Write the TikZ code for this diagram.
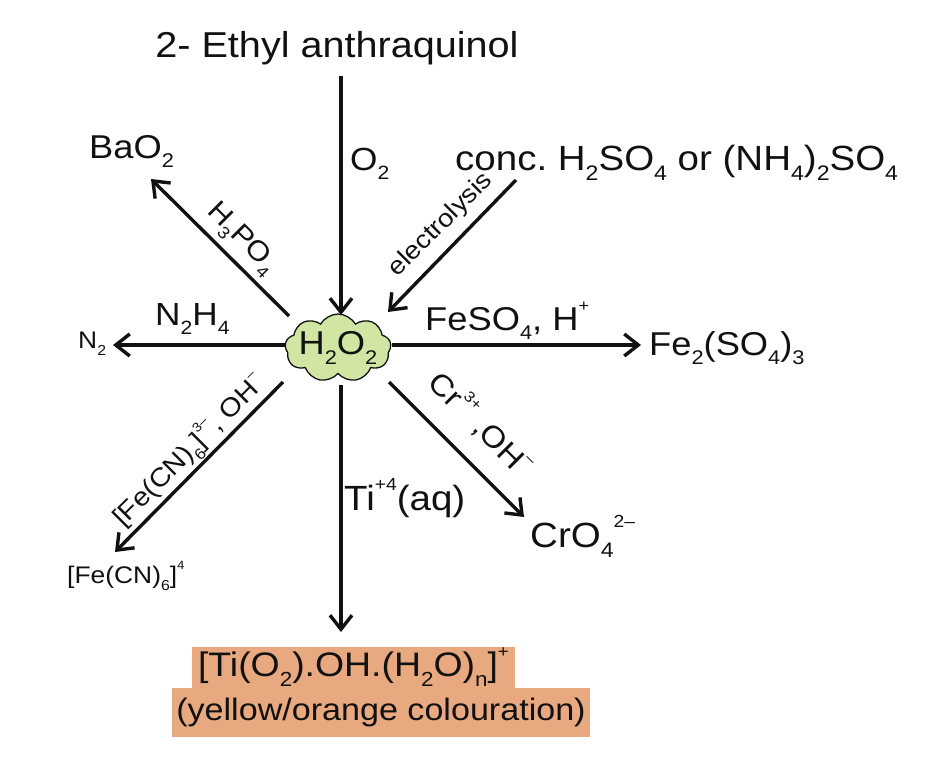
\documentclass[tikz,border=0pt]{standalone}
\usepackage{fontspec}
\setmainfont{Liberation Sans}[FakeStretch=1.1]
\usepackage{graphicx}
\usetikzlibrary{arrows.meta,shapes.symbols}
\newcommand{\dn}[1]{\raisebox{-0.3em}{\scalebox{0.6}{#1}}}
\newcommand{\up}[1]{\raisebox{0.55em}{\scalebox{0.5}{#1}}}
\definecolor{txt}{HTML}{111111}
\definecolor{cloudfill}{HTML}{D0E6A2}
\definecolor{boxfill}{HTML}{E8A980}
\tikzset{
  lbl/.style={inner sep=0pt, text=txt, font=\fontsize{32}{36}\selectfont},
  big/.style={font=\fontsize{33}{38}\selectfont},
  small/.style={font=\fontsize{24}{28}\selectfont},
  arr/.style={draw=txt, line width=3.4pt, -{Straight Barb[length=14pt,width=22pt]}},
  prodbox/.style={lbl, fill=boxfill}
}
\frenchspacing
\begin{document}
\begin{tikzpicture}[x=1pt,y=-1pt]
\useasboundingbox (0,0) rectangle (942,768);

% central cloud
\node[cloud, cloud puffs=9, cloud puff arc=120, cloud ignores aspect, draw=txt, line width=1.3pt,
      fill=cloudfill, minimum width=106pt, minimum height=68pt, inner sep=0pt,
      label={[lbl,big]center:H\dn{2}O\dn{2}}] (h2o2) at (338,348) {};

% compounds / reagents
\node[lbl, font=\fontsize{36}{40}\selectfont, anchor=base] (eaq) at (337,58) {2- Ethyl anthraquinol};
\node[lbl, big, anchor=base west] (bao2) at (89,158) {BaO\dn{2}};
\node[lbl, font=\fontsize{35}{40}\selectfont, anchor=base west] (conc) at (455,170) {conc. H\dn{2}SO\dn{4} or (NH\dn{4})\dn{2}SO\dn{4}};
\node[lbl, small, anchor=base west] (n2) at (78,348) {N\dn{2}};
\node[lbl, big, anchor=base west] (fe2so4) at (649,355) {Fe\dn{2}(SO\dn{4})\dn{3}};
\node[lbl, font=\fontsize{35}{40}\selectfont, anchor=base west] (cro4) at (530,547) {CrO\dn{4}\up{2–}};
\node[lbl, small, anchor=base west] (fecn4) at (67,583) {[Fe(CN)\dn{6}]\up{4}};
\node[prodbox, font=\fontsize{34}{38}\selectfont, minimum width=323pt, minimum height=41pt] (tiox) at (353.5,667.5)
  {[Ti(O\dn{2}).OH.(H\dn{2}O)\dn{n}]\up{+}};
\node[prodbox, font=\fontsize{31}{36}\selectfont, minimum width=418pt, minimum height=49pt] (colour) at (381,712.5)
  {(yellow/orange colouration)};

% arrow end points
\coordinate (a1s) at (341,76);  \coordinate (a1e) at (341,315);
\coordinate (a2s) at (289,316); \coordinate (a2e) at (151,179);
\coordinate (a3s) at (516,180); \coordinate (a3e) at (388,312);
\coordinate (a4s) at (285,345); \coordinate (a4e) at (113,345);
\coordinate (a5s) at (392,345); \coordinate (a5e) at (641,345);
\coordinate (a6s) at (283,382); \coordinate (a6e) at (115,552);
\coordinate (a7s) at (341,385); \coordinate (a7e) at (341,632);
\coordinate (a8s) at (389,382); \coordinate (a8e) at (524,517);

\draw[arr] (a1s) -- (a1e);
\draw[arr] (a2s) -- (a2e);
\draw[arr] (a3s) -- (a3e);
\draw[arr] (a4s) -- (a4e);
\draw[arr] (a5s) -- (a5e);
\draw[arr] (a6s) -- (a6e);
\draw[arr] (a7s) -- (a7e);
\draw[arr] (a8s) -- (a8e);

% arrow labels
\node[lbl, anchor=base west] (o2) at (350,170) {O\dn{2}};
\node[lbl, font=\fontsize{28}{32}\selectfont, rotate=-45] (h3po4) at (241,239) {H\dn{3}PO\dn{4}};
\node[lbl, font=\fontsize{25}{30}\selectfont, rotate=45] (elec) at (441,225) {electrolysis};
\node[lbl, anchor=base west] (n2h4) at (155,325) {N\dn{2}H\dn{4}};
\node[lbl, font=\fontsize{33}{38}\selectfont, anchor=base west] (feso4) at (425,330) {FeSO\dn{4}, H\up{+}};
\node[lbl, font=\fontsize{26}{30}\selectfont, rotate=45] (fecn3) at (189,451) {[Fe(CN)\dn{6}]\up{3–}, OH\up{–}};
\node[lbl, font=\fontsize{35}{40}\selectfont, anchor=base west] (ti) at (344,510) {Ti\up{+4}(aq)};
\node[lbl, font=\fontsize{30}{34}\selectfont, rotate=-45] (cr3) at (481,423) {Cr\up{3+} ,OH\up{–}};
\end{tikzpicture}
\end{document}
